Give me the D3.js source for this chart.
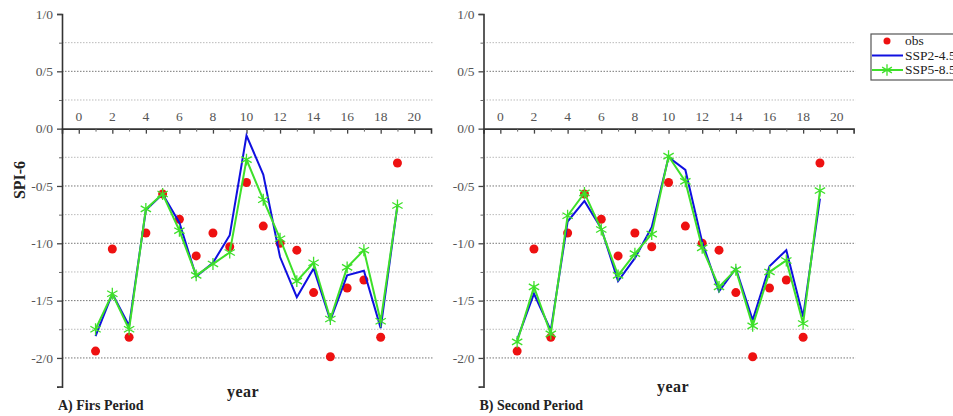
<!DOCTYPE html>
<html>
<head>
<meta charset="utf-8">
<script src="https://cdn.jsdelivr.net/npm/d3@7"></script>
<style>
  body { margin: 0; background: #fff; }
  svg { display: block; }
  text { font-family: "Liberation Serif", "DejaVu Serif", serif; }
</style>
</head>
<body>
<svg width="953" height="416"></svg>
<script>
// years 1..19
const years = d3.range(1, 20);

// observed SPI-6 (same in both periods)
const obs = [-1.94, -1.05, -1.82, -0.91, -0.57, -0.79, -1.11, -0.91, -1.03, -0.47,
             -0.85, -1.00, -1.06, -1.43, -1.99, -1.39, -1.32, -1.82, -0.30];

// A) first period
const ssp245A = [-1.81, -1.44, -1.72, -0.71, -0.57, -0.82, -1.29, -1.17, -0.93, -0.06,
                 -0.40, -1.12, -1.47, -1.22, -1.67, -1.28, -1.24, -1.74, -0.67];
const ssp585A = [-1.75, -1.44, -1.75, -0.70, -0.57, -0.89, -1.28, -1.18, -1.08, -0.27,
                 -0.62, -0.96, -1.33, -1.17, -1.66, -1.21, -1.06, -1.68, -0.67];

// B) second period
const ssp245B = [-1.84, -1.44, -1.76, -0.81, -0.63, -0.87, -1.33, -1.13, -0.86, -0.25,
                 -0.36, -0.99, -1.42, -1.22, -1.67, -1.20, -1.06, -1.64, -0.61];
const ssp585B = [-1.86, -1.38, -1.79, -0.76, -0.56, -0.88, -1.28, -1.09, -0.92, -0.24,
                 -0.46, -1.04, -1.38, -1.23, -1.72, -1.25, -1.15, -1.70, -0.54];

const xTicks = d3.range(0, 21, 2);
const yTicks = [1, 0.5, 0, -0.5, -1, -1.5, -2];
const yTickLabels = ["1/0", "0/5", "0/0", "-0/5", "-1/0", "-1/5", "-2/0"];

const seriesNames = ["obs", "SSP2-4.5", "SSP5-8.5"];
const colors = { obs: "#ee1111", blue: "#1010e0", green: "#3ee02a" };

const svg = d3.select("svg");

function panel(x0, x1, s245, s585, title, yearX, yearY, showYLabel) {
  const x = d3.scaleLinear().domain([-1, 21]).range([x0, x1]);
  const y = d3.scaleLinear().domain([-2.25, 1]).range([386.6, 14]);
  const g = svg.append("g");

  // dotted grid
  const grid = d3.range(-2, 0.76, 0.25).map(v => +v.toFixed(2)).filter(v => v !== 0);
  g.selectAll(".grid").data(grid).enter().append("line")
    .attr("x1", x0).attr("x2", x1 + 2)
    .attr("y1", d => y(d)).attr("y2", d => y(d))
    .attr("stroke", d => (Math.abs(d * 2) % 1 === 0) ? "#777" : "#bbb")
    .attr("stroke-width", 1)
    .attr("stroke-dasharray", "1.5,1.5");

  // y axis
  const yAxis = d3.axisLeft(y).tickValues(yTicks)
    .tickFormat((d, i) => yTickLabels[i]).tickSize(5).tickPadding(4);
  const ya = g.append("g").attr("transform", `translate(${x0},0)`).call(yAxis);
  ya.selectAll(".tick line").attr("stroke", "#444").attr("stroke-width", 1.3);
  g.append("g").attr("transform", `translate(${x0},0)`)
    .call(d3.axisLeft(y).tickValues([0.75, 0.25, -0.25, -0.75, -1.25, -1.75, -2.25]).tickSize(3).tickFormat(""))
    .call(a => a.select(".domain").remove())
    .selectAll("line").attr("stroke", "#666");
  ya.select(".domain").attr("stroke", "#333").attr("stroke-width", 1.6);
  ya.selectAll("text").attr("font-size", 13.5).attr("fill", "#555")
    .style("font-family", "'Liberation Serif', serif");

  // x axis on y=0, labels above, ticks down
  const xAxis = d3.axisBottom(x).tickValues(xTicks).tickSize(5).tickFormat("");
  const xa = g.append("g").attr("transform", `translate(0,${y(0)})`).call(xAxis);
  xa.select(".domain").attr("stroke", "#333").attr("stroke-width", 1.6);
  xa.selectAll(".tick line").attr("stroke", "#444").attr("stroke-width", 1.3);
  g.append("g").attr("transform", `translate(0,${y(0)})`)
    .call(d3.axisBottom(x).tickValues(d3.range(1, 20, 2)).tickSize(3).tickFormat(""))
    .call(a => a.select(".domain").remove())
    .selectAll("line").attr("stroke", "#666");
  g.selectAll(".xlab").data(xTicks).enter().append("text")
    .attr("x", d => x(d)).attr("y", y(0) - 8)
    .attr("text-anchor", "middle").attr("font-size", 13.5).attr("fill", "#555")
    .text(d => d);

  // obs dots
  g.selectAll(".obs").data(years).enter().append("circle")
    .attr("cx", d => x(d)).attr("cy", (d, i) => y(obs[i]))
    .attr("r", 4.5).attr("fill", colors.obs);

  const line = d3.line().x(d => x(d[0])).y(d => y(d[1]));
  g.append("path").datum(years.map((d, i) => [d, s245[i]]))
    .attr("d", line).attr("fill", "none")
    .attr("stroke", colors.blue).attr("stroke-width", 2);
  g.append("path").datum(years.map((d, i) => [d, s585[i]]))
    .attr("d", line).attr("fill", "none")
    .attr("stroke", colors.green).attr("stroke-width", 2);
  const star = d3.symbol().type(d3.symbolAsterisk).size(100);
  g.selectAll(".star").data(years).enter().append("path")
    .attr("d", star)
    .attr("transform", (d, i) => `translate(${x(d)},${y(s585[i])})`)
    .attr("fill", "none").attr("stroke", colors.green).attr("stroke-width", 1.3);

  // labels
  g.append("text").attr("x", yearX).attr("y", yearY)
    .attr("text-anchor", "middle").attr("font-size", 16).attr("font-weight", "bold")
    .attr("fill", "#222").attr("letter-spacing", 0.5).text("year");
  g.append("text").attr("x", x0 - 4).attr("y", 410)
    .attr("font-size", 14).attr("font-weight", "bold").attr("fill", "#222")
    .text(title);
  if (showYLabel) {
    g.append("text").attr("transform", "translate(25,180) rotate(-90)")
      .attr("text-anchor", "middle").attr("font-size", 16).attr("font-weight", "bold")
      .attr("fill", "#222").text("SPI-6");
  }
}

panel(62, 431, ssp245A, ssp585A, "A) Firs Period", 243, 397, true);
panel(483.5, 853.6, ssp245B, ssp585B, "B) Second Period", 673, 392, false);

// legend
const lg = svg.append("g").attr("transform", "translate(871,34)");
lg.append("rect").attr("width", 100).attr("height", 46)
  .attr("fill", "#fff").attr("stroke", "#555").attr("stroke-width", 1.2);
seriesNames.forEach((name, i) => {
  const cy = 7 + i * 14.5;
  if (i === 0) {
    lg.append("circle").attr("cx", 16).attr("cy", cy).attr("r", 3.5).attr("fill", colors.obs);
  } else {
    lg.append("line").attr("x1", 1).attr("x2", 32).attr("y1", cy).attr("y2", cy)
      .attr("stroke", i === 1 ? colors.blue : colors.green).attr("stroke-width", 2);
    if (i === 2) {
      lg.append("path").attr("d", d3.symbol().type(d3.symbolAsterisk).size(90))
        .attr("transform", `translate(16,${cy})`)
        .attr("fill", "none").attr("stroke", colors.green).attr("stroke-width", 1.3);
    }
  }
  lg.append("text").attr("x", 34).attr("y", cy + 4)
    .attr("font-size", 13.5).attr("fill", "#222").text(name);
});
</script>
</body>
</html>
